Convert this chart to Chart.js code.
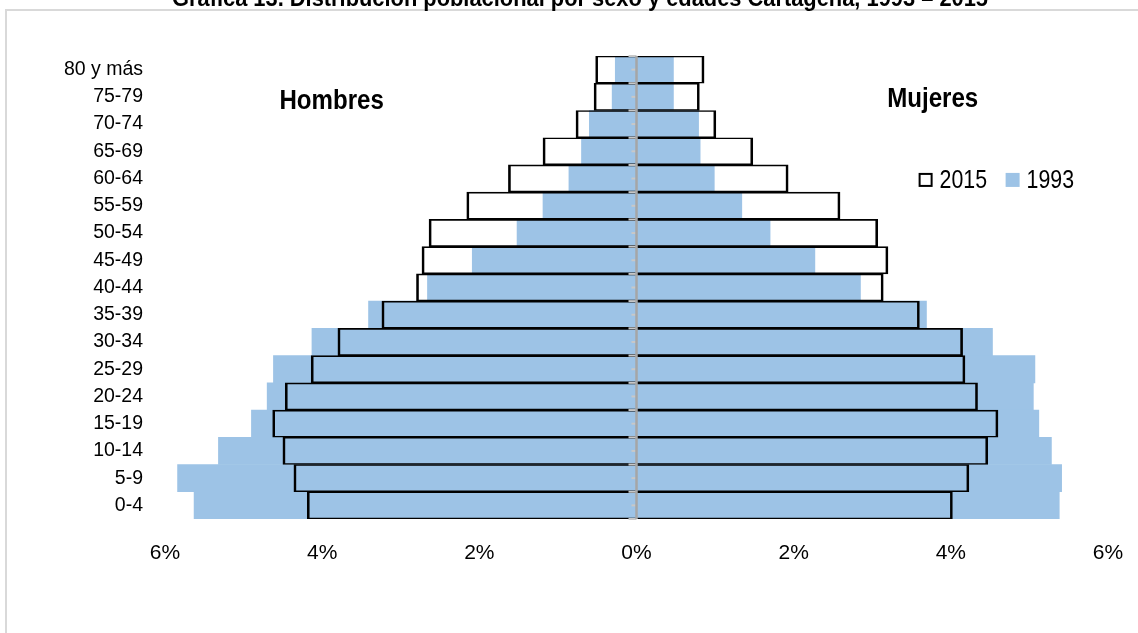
<!DOCTYPE html>
<html>
<head>
<meta charset="utf-8">
<script src="https://cdn.jsdelivr.net/npm/chart.js@4"></script>
<style>
  html, body { margin: 0; padding: 0; background: #fff; }
  #wrap { position: relative; width: 1138px; height: 633px; }
</style>
</head>
<body>
<div id="wrap"><canvas id="myChart"></canvas></div>
<script>
const ageGroups = ['80 y más', '75-79', '70-74', '65-69', '60-64', '55-59', '50-54', '45-49', '40-44',
                   '35-39', '30-34', '25-29', '20-24', '15-19', '10-14', '5-9', '0-4'];
const hombres2015 = [0.52, 0.54, 0.77, 1.19, 1.63, 2.16, 2.64, 2.73, 2.80, 3.24, 3.80, 4.14, 4.47, 4.63, 4.50, 4.36, 4.19];
const mujeres2015 = [0.86, 0.80, 1.01, 1.48, 1.93, 2.59, 3.07, 3.20, 3.14, 3.60, 4.15, 4.18, 4.34, 4.60, 4.47, 4.23, 4.02];
const hombres1993 = [0.27, 0.31, 0.60, 0.70, 0.86, 1.19, 1.52, 2.09, 2.66, 3.41, 4.13, 4.62, 4.70, 4.90, 5.32, 5.84, 5.63];
const mujeres1993 = [0.47, 0.47, 0.79, 0.81, 0.99, 1.34, 1.70, 2.27, 2.85, 3.69, 4.53, 5.07, 5.05, 5.12, 5.28, 5.41, 5.38];
const xTicks = [-6, -4, -2, 0, 2, 4, 6];

const FONT = "'Liberation Sans', Arial, sans-serif";
const BLUE = '#9dc3e6';
const titleText = 'Gráfica 13. Distribución poblacional por sexo y edades Cartagena, 1993 – 2015';

// bars go from -hombres to +mujeres
function spans(left, right) {
    return left.map((v, i) => [-v, right[i]]);
}

// text squeezed sideways, the original uses a narrow face
function narrowText(ctx, text, x, y, sx, align) {
    ctx.save();
    ctx.translate(x, y);
    ctx.scale(sx, 1);
    ctx.textAlign = align;
    ctx.fillText(text, 0, 0);
    ctx.restore();
}

const extras = {
    id: 'extras',
    beforeDraw(chart) {
        const ctx = chart.ctx;
        ctx.save();
        ctx.strokeStyle = '#d9d9d9';
        ctx.lineWidth = 2;
        ctx.strokeRect(6, 10, 1300, 800);
        ctx.restore();
    },
    afterDatasetsDraw(chart) {
        const ctx = chart.ctx;
        const x = chart.scales.x, y = chart.scales.y;
        const x0 = x.getPixelForValue(0);
        const h = (y.bottom - y.top) / ageGroups.length;
        ctx.save();
        ctx.strokeStyle = '#c8c8c8';
        ctx.lineWidth = 2;
        for (let i = 0; i <= ageGroups.length; i++) {
            const yb = y.top + i * h;
            ctx.beginPath(); ctx.moveTo(x0 - 8, yb); ctx.lineTo(x0, yb); ctx.stroke();
            if (i < ageGroups.length) {
                const ym = yb + h / 2;
                ctx.beginPath(); ctx.moveTo(x0 - 5, ym); ctx.lineTo(x0, ym); ctx.stroke();
            }
        }
        ctx.strokeStyle = '#a6a6a6';
        ctx.lineWidth = 2.5;
        ctx.beginPath(); ctx.moveTo(x0, y.top); ctx.lineTo(x0, y.bottom); ctx.stroke();
        ctx.restore();
    },
    afterDraw(chart) {
        const ctx = chart.ctx;
        const x = chart.scales.x, y = chart.scales.y;
        ctx.save();
        ctx.fillStyle = '#000';
        ctx.textBaseline = 'alphabetic';
        ctx.font = 'bold 24px ' + FONT;
        const tw = ctx.measureText(titleText).width;
        narrowText(ctx, titleText, 580, 6, 816 / tw, 'center');

        ctx.textBaseline = 'middle';
        ctx.font = 'bold 28px ' + FONT;
        narrowText(ctx, 'Hombres', x.getPixelForValue(-3.88), y.getPixelForValue(1.15), 0.86, 'center');
        narrowText(ctx, 'Mujeres', x.getPixelForValue(3.77), y.getPixelForValue(1.1), 0.86, 'center');

        // legend
        const ly = y.getPixelForValue(4.05);
        let lx = x.getPixelForValue(3.59);
        ctx.font = '26px ' + FONT;
        ctx.fillStyle = '#fff';
        ctx.fillRect(lx, ly - 7, 14, 14);
        ctx.strokeStyle = '#000';
        ctx.lineWidth = 2;
        ctx.strokeRect(lx + 1, ly - 6, 12, 12);
        ctx.fillStyle = '#000';
        narrowText(ctx, '2015', lx + 21, ly + 1, 0.82, 'left');
        lx += 87;
        ctx.fillStyle = BLUE;
        ctx.fillRect(lx, ly - 7, 14, 14);
        ctx.fillStyle = '#000';
        narrowText(ctx, '1993', lx + 21, ly + 1, 0.82, 'left');
        ctx.restore();
    }
};

document.addEventListener('DOMContentLoaded', function() {
    const ctx = document.getElementById('myChart').getContext('2d');

    new Chart(ctx, {
        type: 'bar',
        data: {
            labels: ageGroups,
            datasets: [{
                label: '2015',
                data: spans(hombres2015, mujeres2015),
                backgroundColor: 'rgba(255,255,255,0)',
                borderColor: '#000',
                borderWidth: { top: 1, bottom: 1, left: 2, right: 2 },
                borderSkipped: false,
                grouped: false,
                barPercentage: 1,
                categoryPercentage: 1
            }, {
                label: '1993',
                data: spans(hombres1993, mujeres1993),
                backgroundColor: BLUE,
                borderWidth: 0,
                grouped: false,
                barPercentage: 1,
                categoryPercentage: 1
            }]
        },
        options: {
            indexAxis: 'y',
            responsive: true,
            maintainAspectRatio: false,
            animation: false,
            layout: { padding: { top: 56, right: 30, bottom: 64, left: 0 } },
            plugins: {
                legend: { display: false },
                tooltip: { enabled: false },
                title: { display: false }
            },
            scales: {
                x: {
                    min: -6,
                    max: 6,
                    afterBuildTicks(scale) {
                        scale.ticks = xTicks.map(v => ({ value: v }));
                    },
                    afterFit(scale) {
                        scale.height = 50;
                        scale.paddingLeft = 0;
                        scale.paddingRight = 0;
                    },
                    grid: { display: false, drawTicks: false },
                    border: { display: false },
                    ticks: {
                        padding: 22,
                        color: '#000',
                        font: { family: FONT, size: 21 },
                        callback: v => Math.abs(v) + '%'
                    }
                },
                y: {
                    afterFit(scale) { scale.width = 165; },
                    grid: { display: false, drawTicks: false },
                    border: { display: false },
                    ticks: {
                        autoSkip: false,
                        padding: 22,
                        color: '#000',
                        font: { family: FONT, size: 19.5 }
                    }
                }
            }
        },
        plugins: [extras]
    });
});
</script>
</body>
</html>
